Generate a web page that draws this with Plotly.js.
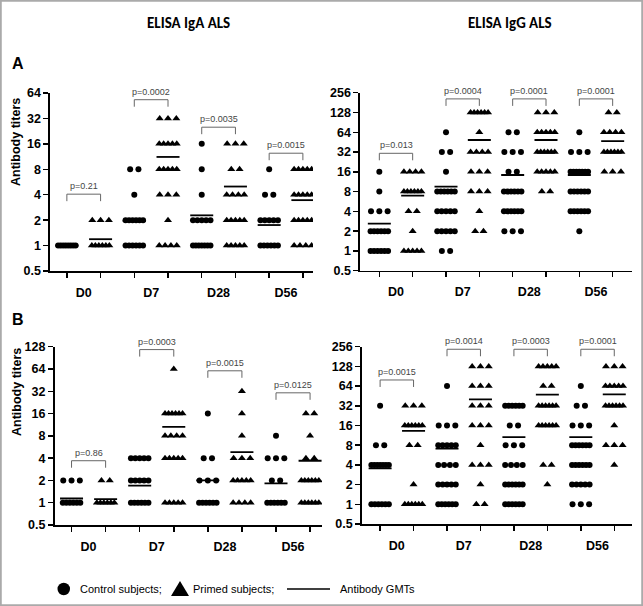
<!DOCTYPE html>
<html><head><meta charset="utf-8">
<script src="https://cdn.plot.ly/plotly-3.0.1.min.js"></script>
<style>html,body{margin:0;padding:0;background:#fff}#chart{width:643px;height:606px}</style>
</head><body><div id="chart"></div>
<script>
// ---------------- DATA ----------------
const days = ['D0', 'D7', 'D28', 'D56'];
const titerLevels = [1, 2, 4, 8, 16, 32, 64, 128];
const yTickVals = [0.5, 1, 2, 4, 8, 16, 32, 64, 128, 256];
const yTickText = ['0.5', '1', '2', '4', '8', '16', '32', '64', '128', '256'];

// number of subjects at each titer level (rows: D0, D7, D28, D56; columns: titerLevels)
const igaA_control = [[8,0,0,0,0,0,0,0],[6,6,1,2,0,0,0,0],[7,5,1,1,1,0,0,0],[6,5,2,1,0,0,0,0]];
const igaA_primed  = [[6,3,0,0,0,0,0,0],[4,1,3,5,5,3,0,0],[5,5,4,2,3,0,0,0],[4,5,5,5,0,0,0,0]];
const iggA_control = [[6,6,3,1,1,0,0,0],[2,5,5,6,1,2,1,0],[0,3,6,6,2,3,2,0],[0,1,6,6,7,3,1,0]];
const iggA_primed  = [[5,1,2,6,4,0,0,0],[0,2,1,3,3,4,1,6],[0,0,0,2,5,6,5,3],[0,0,0,0,3,6,4,2]];
const igaB_control = [[6,3,0,0,0,0,0,0],[6,5,5,0,0,0,0,0],[6,3,2,0,1,0,0,0],[6,2,3,1,0,0,0,0]];
const igaB_primed  = [[6,2,0,0,0,0,0,0],[5,0,5,4,6,0,1,0],[4,5,3,1,1,1,0,0],[6,6,2,1,2,0,0,0]];
const iggB_control = [[6,0,7,2,0,1,0,0],[6,5,4,5,3,0,1,0],[6,6,4,3,2,6,0,0],[3,5,6,6,3,2,1,0]];
const iggB_primed  = [[6,1,0,2,6,3,0,0],[2,1,3,1,3,3,3,3],[0,1,2,0,6,6,2,5],[0,0,1,3,1,6,5,3]];

// antibody GMTs (D0, D7, D28, D56)
const igaA_controlGMT = [1.0, 1.95, 2.28, 1.75];
const igaA_primedGMT  = [1.19, 11.2, 5.0, 3.45];
const iggA_controlGMT = [2.6, 9.5, 14.3, 14.3];
const iggA_primedGMT  = [6.93, 48.8, 48.8, 47];
const igaB_controlGMT = [1.14, 1.7, 2.0, 1.82];
const igaB_primedGMT  = [1.12, 10.6, 4.83, 3.69];
const iggB_controlGMT = [3.55, 7.1, 10.6, 10.6];
const iggB_primedGMT  = [13.2, 40.2, 47.5, 47.7];

// p-values (control vs primed)
const igaA_p = ['p=0.21', 'p=0.0002', 'p=0.0035', 'p=0.0015'];
const iggA_p = ['p=0.013', 'p=0.0004', 'p=0.0001', 'p=0.0001'];
const igaB_p = ['p=0.86', 'p=0.0003', 'p=0.0015', 'p=0.0125'];
const iggB_p = ['p=0.0015', 'p=0.0014', 'p=0.0003', 'p=0.0001'];

// ---------------- LAYOUT CONFIG ----------------
const W = 643, H = 606;
const panels = [
  {ctrl: igaA_control, prim: igaA_primed, cg: igaA_controlGMT, pg: igaA_primedGMT, p: igaA_p,
   bracket: [4.06, 53.3, 25.2, 12.4], px: [50, 313], py: [93, 271], xr: [0.5, 8.3], ymax: 64},
  {ctrl: iggA_control, prim: iggA_primed, cg: iggA_controlGMT, pg: iggA_primedGMT, p: iggA_p,
   bracket: [30.6, 206, 206, 206], px: [360, 632], py: [92.7, 270.7], xr: [0.42, 8.58], ymax: 256},
  {ctrl: igaB_control, prim: igaB_primed, cg: igaB_controlGMT, pg: igaB_primedGMT, p: igaB_p,
   bracket: [3.69, 117, 60.5, 30.5], px: [54.5, 322], py: [346.7, 525], xr: [0.5, 8.35], ymax: 128},
  {ctrl: iggB_control, prim: iggB_primed, cg: iggB_controlGMT, pg: iggB_primedGMT, p: iggB_p,
   bracket: [79.4, 234, 234, 234], px: [361.7, 632], py: [346.7, 524], xr: [0.45, 8.53], ymax: 256}
];

const tickFont = {family: 'Arial, Liberation Sans, sans-serif', size: 12.5, color: '#000', weight: 'bold'};
const traces = [];
const annotations = [];
const layout = {
  width: W, height: H, margin: {l: 0, r: 0, t: 0, b: 0},
  paper_bgcolor: '#fff', plot_bgcolor: 'rgba(0,0,0,0)', showlegend: false,
  annotations: annotations, shapes: []
};

function spread(n, pxPerUnit) {
  const step = 8.3, maxSpan = 17.5;
  let s = step;
  if (n > 1 && (n - 1) * step > maxSpan) s = maxSpan / (n - 1);
  const out = [];
  for (let i = 0; i < n; i++) out.push(((i - (n - 1) / 2) * s) / pxPerUnit);
  return out;
}

panels.forEach((pn, i) => {
  const id = i === 0 ? '' : String(i + 1);
  const xa = 'x' + id, ya = 'y' + id;
  const pxPerUnit = (pn.px[1] - pn.px[0]) / (pn.xr[1] - pn.xr[0]);
  const ylo = Math.log10(0.5), yhi = Math.log10(pn.ymax);
  const pxPerDecade = (pn.py[1] - pn.py[0]) / (yhi - ylo);
  const tv = yTickVals.filter(v => v <= pn.ymax + 1e-9);
  const tt = yTickText.slice(0, tv.length);

  layout['xaxis' + id] = {
    domain: [pn.px[0] / W, pn.px[1] / W], range: pn.xr, anchor: ya,
    showline: true, linecolor: '#000', linewidth: 1.6, showgrid: false, zeroline: false,
    tickmode: 'array', tickvals: [1.5, 3.5, 5.5, 7.5], ticktext: days, ticks: '',
    ticklabelstandoff: 9, tickfont: {family: 'Arial, Liberation Sans, sans-serif', size: 12.5, color: '#000', weight: 'bold'},
    minor: {tickmode: 'array', tickvals: [1, 2, 3, 4, 5, 6, 7, 8], ticks: 'outside', ticklen: 5, tickwidth: 1.5, tickcolor: '#000', showgrid: false},
    fixedrange: true
  };
  layout['yaxis' + id] = {
    domain: [1 - pn.py[1] / H, 1 - pn.py[0] / H], type: 'log', range: [ylo, yhi], anchor: xa,
    showline: true, linecolor: '#000', linewidth: 1.6, showgrid: false, zeroline: false,
    tickmode: 'array', tickvals: tv, ticktext: tt, ticks: 'outside', ticklen: 5, tickwidth: 1.5, tickcolor: '#000',
    tickfont: tickFont, fixedrange: true
  };

  const cx = [], cy = [], px = [], py = [];
  for (let k = 0; k < 4; k++) {
    const baseC = 2 * k + 1, baseP = 2 * k + 2;
    titerLevels.forEach((lv, li) => {
      const nc = pn.ctrl[k][li];
      spread(nc, pxPerUnit).forEach(o => { cx.push(baseC + o); cy.push(lv); });
      const np = pn.prim[k][li];
      spread(np, pxPerUnit).forEach(o => { px.push(baseP + o); py.push(lv); });
    });
  }
  traces.push({type: 'scatter', mode: 'markers', x: cx, y: cy, xaxis: xa, yaxis: ya,
    marker: {symbol: 'circle', size: 6, color: '#000'}, hoverinfo: 'skip'});
  traces.push({type: 'scatter', mode: 'markers', x: px, y: py, xaxis: xa, yaxis: ya,
    marker: {symbol: 'triangle-up', size: 7, color: '#000'}, hoverinfo: 'skip'});

  // GMT lines
  const half = 11.5 / pxPerUnit;
  const gx = [], gy = [];
  for (let k = 0; k < 4; k++) {
    [[2 * k + 1, pn.cg[k]], [2 * k + 2, pn.pg[k]]].forEach(([b, g]) => {
      gx.push(b - half, b + half, null); gy.push(g, g, null);
    });
  }
  traces.push({type: 'scatter', mode: 'lines', x: gx, y: gy, xaxis: xa, yaxis: ya,
    line: {color: '#000', width: 1.8}, hoverinfo: 'skip'});

  // p-value brackets
  const drop = Math.pow(10, -7 / pxPerDecade);
  const bx = [], by = [];
  for (let k = 0; k < 4; k++) {
    const b = pn.bracket[k];
    bx.push(2 * k + 1, 2 * k + 1, 2 * k + 2, 2 * k + 2, null);
    by.push(b * drop, b, b, b * drop, null);
    annotations.push({xref: xa, yref: ya, x: 2 * k + 1.5, y: Math.log10(b), xanchor: 'center', yanchor: 'bottom', yshift: 1,
      text: pn.p[k], showarrow: false,
      font: {family: 'Arial, sans-serif', size: 9, color: '#444'}});
  }
  traces.push({type: 'scatter', mode: 'lines', x: bx, y: by, xaxis: xa, yaxis: ya,
    line: {color: '#666', width: 1}, hoverinfo: 'skip'});
});

// titles & labels
function pa(xpx, ypx, text, font, extra) {
  annotations.push(Object.assign({xref: 'paper', yref: 'paper', x: xpx / W, y: 1 - ypx / H,
    xanchor: 'center', yanchor: 'middle', text: text, showarrow: false, font: font}, extra || {}));
}
const titleFont = {family: 'Carlito, Lato, Open Sans, sans-serif', size: 15, color: '#000', weight: 'bold'};
pa(188, 23, 'ELISA IgA ALS', titleFont);
pa(510, 23, 'ELISA IgG ALS', titleFont);
const rowFont = {family: 'Arial, Liberation Sans, sans-serif', size: 16, color: '#000', weight: 'bold'};
pa(18, 64, 'A', rowFont);
pa(18, 320, 'B', rowFont);
const yTitleFont = {family: 'Arial, Liberation Sans, sans-serif', size: 12.5, color: '#000', weight: 'bold'};
pa(16, 142, 'Antibody titers', yTitleFont, {textangle: -90});
pa(17, 392, 'Antibody titers', yTitleFont, {textangle: -90});

// legend
const legFont = {family: 'Arial, sans-serif', size: 11, color: '#000'};
const LY = 589;
layout.shapes.push({type: 'circle', xref: 'paper', yref: 'paper', x0: 57.5 / W, x1: 70 / W,
  y0: 1 - (LY + 6.2) / H, y1: 1 - (LY - 6.2) / H, fillcolor: '#000', line: {width: 0}});
pa(78, LY, 'Control subjects;', legFont, {xanchor: 'left'});
layout.shapes.push({type: 'path', xref: 'paper', yref: 'paper',
  path: `M ${171 / W} ${1 - (LY + 7) / H} L ${189 / W} ${1 - (LY + 7) / H} L ${180 / W} ${1 - (LY - 8) / H} Z`,
  fillcolor: '#000', line: {width: 0}});
pa(191, LY, 'Primed subjects;', legFont, {xanchor: 'left'});
layout.shapes.push({type: 'line', xref: 'paper', yref: 'paper', x0: 287 / W, x1: 330 / W,
  y0: 1 - LY / H, y1: 1 - LY / H, line: {color: '#000', width: 1.5}});
pa(338, LY, 'Antibody GMTs', legFont, {xanchor: 'left'});

// frame
layout.shapes.push({type: 'rect', xref: 'paper', yref: 'paper', x0: 0.0012, x1: 0.9988, y0: 0.0012, y1: 0.9988,
  line: {color: '#aaa', width: 2}});

Plotly.newPlot('chart', traces, layout, {displayModeBar: false, staticPlot: true});
</script>
</body></html>
